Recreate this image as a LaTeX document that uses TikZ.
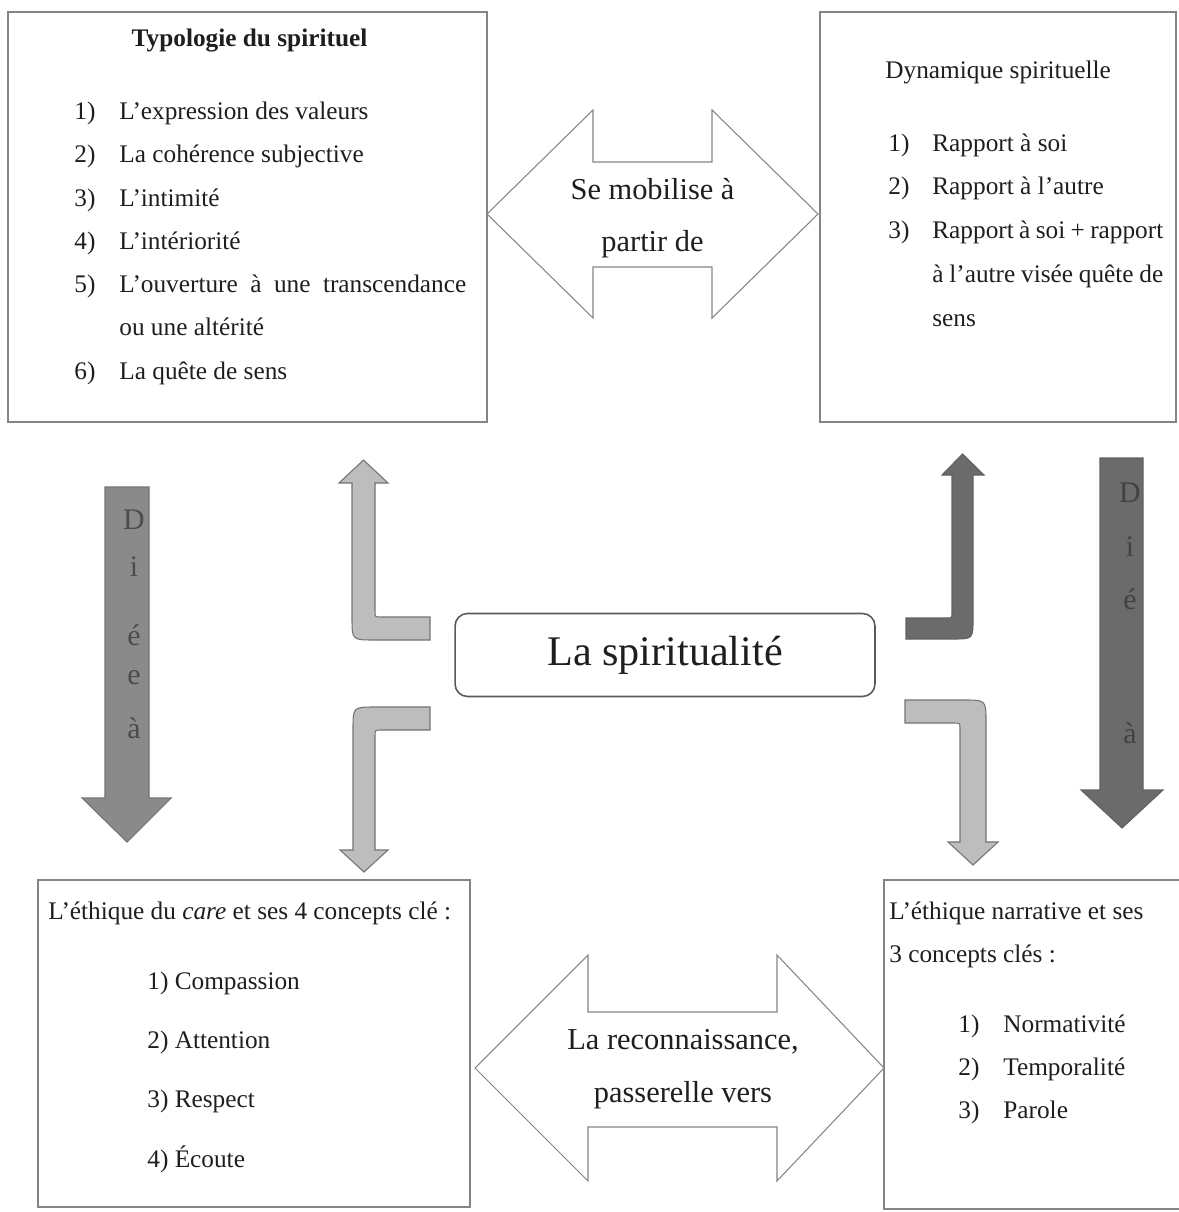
\documentclass[tikz,border=0pt]{standalone}
\usepackage{fontspec}
\setmainfont{Liberation Serif}
\usepackage{tikz}
\definecolor{gristrait}{HTML}{858585}
\definecolor{grisclair}{HTML}{BDBDBD}
\definecolor{grismoyen}{HTML}{8A8A8A}
\definecolor{grisfonce}{HTML}{6B6B6B}
\definecolor{encre}{HTML}{1E1E1E}

\begin{document}
\begin{tikzpicture}[x=0.02cm,y=-0.02cm,
	boite/.style={draw=gristrait,line width=0.7pt,inner sep=0pt,outer sep=0pt},
	txt/.style={inner sep=0pt,anchor=base west,text=encre,font=\fontsize{14.4}{17}\selectfont},
	grand/.style={txt,anchor=base,font=\fontsize{17.3}{20}\selectfont},
	lettre/.style={inner sep=0pt,text=black!70,font=\fontsize{17}{20}\selectfont},
	fleche/.style={draw=gristrait,line width=0.6pt,fill=white},
	coude/.style={draw=black!55,line width=0.6pt,fill=grisclair},
	coudefonce/.style={draw=black!62,line width=0.6pt,fill=grisfonce}]
			\useasboundingbox (0,0) rectangle (1178,1212);
			% Les cadres
			\node[boite,minimum width=9.58cm,minimum height=8.2cm] (typo) at (247.5,217) {};
			\node[boite,minimum width=7.12cm,minimum height=8.2cm] (dyn) at (998,217) {};
			\node[boite,minimum width=8.64cm,minimum height=6.54cm] (care) at (254,1043.5) {};
			\node[boite,minimum width=6.12cm,minimum height=6.58cm] (narr) at (1037,1044.5) {};
			\node[boite,draw=black!65,line width=0.9pt,rounded corners=0.25cm,minimum width=8.4cm,minimum height=1.66cm,text=encre,font=\fontsize{24}{28}\selectfont] (spi) at (665,655) {La spiritualité};
			% Flèches doubles
			\draw[fleche] (487,214) -- (593,110) -- (593,162) -- (712,162) -- (712,110) -- (818,214)
				-- (712,318) -- (712,267) -- (593,267) -- (593,318) -- cycle;
			\draw[fleche] (475,1068) -- (588,955) -- (588,1012) -- (777,1012) -- (777,955) -- (884,1068)
				-- (777,1181) -- (777,1127) -- (588,1127) -- (588,1181) -- cycle;
			\node[grand] (mob-1) at (652.5,200) {Se mobilise à};
			\node[grand] (mob-2) at (652.5,252) {partir de};
			\node[grand] (rec-1) at (683,1049) {La reconnaissance,};
			\node[grand] (rec-2) at (683,1102) {passerelle vers};
			% Grandes flèches verticales
			\draw[coude,fill=grismoyen] (105,487) -- (149,487) -- (149,798) -- (171,798) -- (127,842) -- (82,798) -- (105,798) -- cycle;
			\draw[coudefonce] (1100,458) -- (1143,458) -- (1143,790) -- (1163,790) -- (1122,828) -- (1081,790) -- (1100,790) -- cycle;
			\foreach \l/\y in {D/520,i/567,é/635,e/678,à/728}
			\node[lettre] (g-\y) at (134,\y) {\l};
			\foreach \l/\y in {D/493,i/547,é/599,à/733}
			\node[lettre,text=black!74] (d-\y) at (1130,\y) {\l};
			% Flèches coudées
			\draw[coude] (430,617) -- (381,617) .. controls (375,617) .. (375,611) -- (375,483) -- (388,483) -- (363.5,460)
				-- (339,483) -- (352,483) -- (352,618) .. controls (352,640) .. (374,640) -- (430,640) -- cycle;
			\draw[coudefonce] (906,618) -- (946,618) .. controls (952,618) .. (952,612) -- (952,475) -- (942,475) -- (962.5,454)
				-- (984,475) -- (973,475) -- (973,619) .. controls (973,639) .. (953,639) -- (906,639) -- cycle;
			\draw[coude] (430,707) -- (375,707) .. controls (353,707) .. (353,729) -- (353,850) -- (340,850) -- (364,872)
				-- (388,850) -- (375,850) -- (375,736) .. controls (375,730) .. (381,730) -- (430,730) -- cycle;
			\draw[coude] (905,700) -- (964,700) .. controls (986,700) .. (986,722) -- (986,842) -- (998,842) -- (973,865)
				-- (948,842) -- (960,842) -- (960,729) .. controls (960,723) .. (954,723) -- (905,723) -- cycle;
			% Typologie du spirituel
			\node[txt,anchor=base,font=\fontsize{14.4}{17}\selectfont\bfseries] (typo-titre) at (249.5,47) {Typologie du spirituel};
			\foreach \i/\lib/\y in {1/L’expression des valeurs/120,2/La cohérence subjective/163,3/L’intimité/207,
				4/L’intériorité/250,5/{\makebox[6.94cm][s]{L’ouverture à une transcendance}}/293,6/La quête de sens/380}{
				\node[txt] (typo-n\i) at (74,\y) {\i)};
				\node[txt] (typo-\i) at (119,\y) {\lib};
			}
			\node[txt] (typo-5b) at (119,336) {ou une altérité};
			% Dynamique spirituelle
			\node[txt] (dyn-titre) at (885,79) {Dynamique spirituelle};
			\foreach \i/\lib/\y in {1/Rapport à soi/152,2/Rapport à l’autre/195,3/{\makebox[4.62cm][s]{Rapport à soi + rapport}}/239}{
				\node[txt] (dyn-n\i) at (888,\y) {\i)};
				\node[txt] (dyn-\i) at (932,\y) {\lib};
			}
			\node[txt] (dyn-3b) at (932,283) {\makebox[4.62cm][s]{à l’autre visée quête de}};
			\node[txt] (dyn-3c) at (932,327) {sens};
			% Éthique du care
			\node[txt] (care-titre) at (48,919) {L’éthique du \textit{care} et ses 4 concepts clé :};
			\foreach \i/\lib/\y in {1/Compassion/989,2/Attention/1048,3/Respect/1107,4/Écoute/1167}
			\node[txt] (care-\i) at (147,\y) {\i) \lib};
			% Éthique narrative
			\node[txt] (narr-titre) at (889,919) {L’éthique narrative et ses};
			\node[txt] (narr-titre2) at (889,962) {3 concepts clés :};
			\foreach \i/\lib/\y in {1/Normativité/1032,2/Temporalité/1075,3/Parole/1118}{
				\node[txt] (narr-n\i) at (958,\y) {\i)};
				\node[txt] (narr-\i) at (1003,\y) {\lib};
			}
		\end{tikzpicture}
\end{document}
